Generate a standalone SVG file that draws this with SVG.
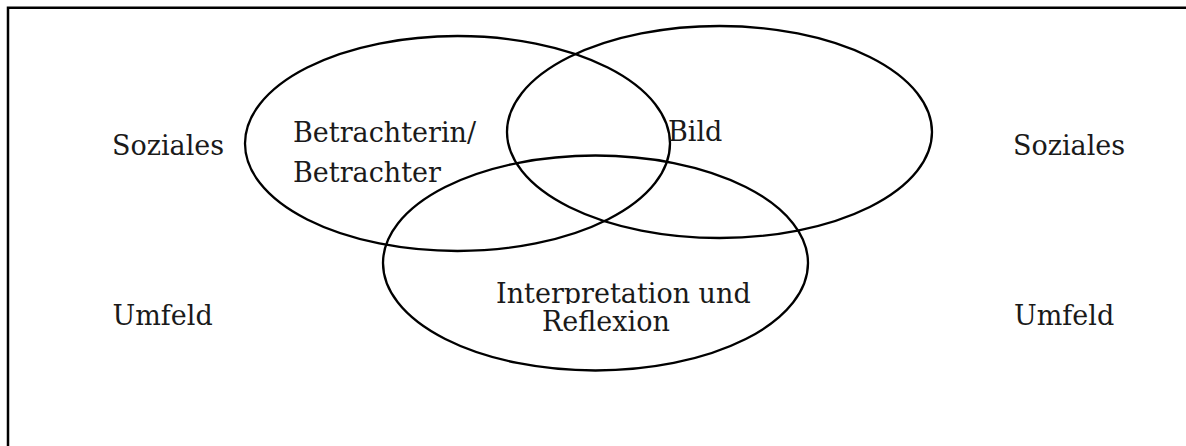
<svg xmlns="http://www.w3.org/2000/svg" width="1186" height="446" viewBox="0 0 1186 446">
  <style>
    .frame { fill: none; stroke: #000; stroke-width: 2.5; }
    .set { fill: none; stroke: #000; stroke-width: 2.3; }
    .lbl { font-family: "DejaVu Serif", "Liberation Serif", serif; font-size: 27px; fill: #1a1a1a; }
  </style>
  <defs>
    <clipPath id="clipLine1">
      <rect x="480" y="260" width="300" height="44"/>
    </clipPath>
  </defs>
  <rect width="1186" height="446" fill="#fff"/>
  <g id="frame">
    <path class="frame" d="M8 446 V7.8 H1186"/>
  </g>
  <g id="connectors"></g>
  <g id="node-betrachter">
    <ellipse class="set" cx="457.5" cy="143.5" rx="212.5" ry="107.5"/>
    <text class="lbl" x="293" y="142">Betrachterin/</text>
    <text class="lbl" x="293" y="182">Betrachter</text>
  </g>
  <g id="node-bild">
    <ellipse class="set" cx="719.5" cy="132" rx="212.5" ry="106"/>
    <text class="lbl" x="668" y="141">Bild</text>
  </g>
  <g id="node-interpretation">
    <ellipse class="set" cx="595.5" cy="263" rx="212.5" ry="107.5"/>
    <text class="lbl" x="496" y="302.5" clip-path="url(#clipLine1)">Interpretation und</text>
    <text class="lbl" x="542" y="331">Reflexion</text>
  </g>
  <g id="node-soziales-left">
    <text class="lbl" x="112" y="155">Soziales</text>
  </g>
  <g id="node-umfeld-left">
    <text class="lbl" x="112.5" y="325">Umfeld</text>
  </g>
  <g id="node-soziales-right">
    <text class="lbl" x="1013" y="155">Soziales</text>
  </g>
  <g id="node-umfeld-right">
    <text class="lbl" x="1014" y="325">Umfeld</text>
  </g>
</svg>
